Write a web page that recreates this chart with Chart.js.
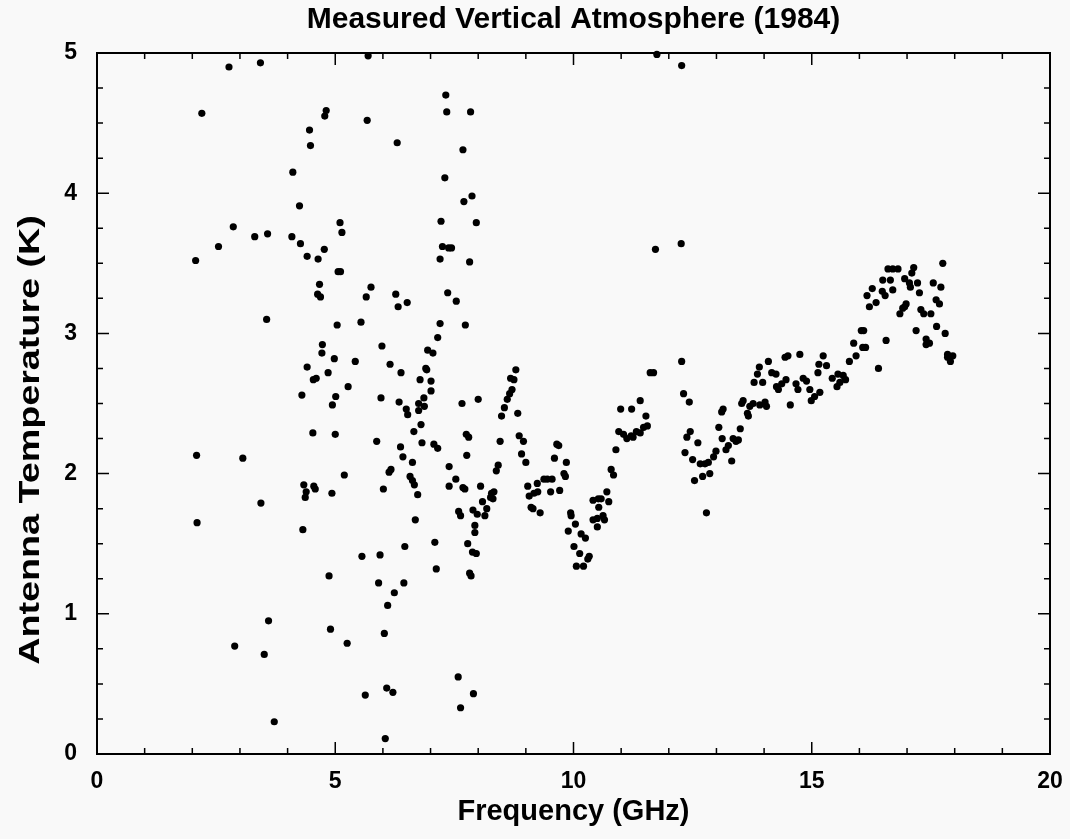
<!DOCTYPE html>
<html>
<head>
<meta charset="utf-8">
<title>Measured Vertical Atmosphere (1984)</title>
<script src="https://cdn.jsdelivr.net/npm/chart.js@4.4.1/dist/chart.umd.min.js"></script>
<style>
  html, body { margin: 0; padding: 0; background: #f9f9f9; }
  canvas { display: block; }
</style>
</head>
<body>
<canvas id="chart" width="1070" height="839"></canvas>
<script>
// measured points
const freqGHz = [
  2.07, 2.09, 2.10, 2.20, 2.55, 2.77, 2.86, 2.89, 3.06, 3.31, 3.43, 3.44, 3.51, 3.56, 3.58, 3.60, 3.72,
  4.09, 4.11, 4.25, 4.27, 4.30, 4.32, 4.34, 4.37, 4.39, 4.41, 4.41, 4.46, 4.48, 4.53, 4.54, 4.55, 4.58,
  4.60, 4.63, 4.64, 4.67, 4.69, 4.72, 4.73, 4.77, 4.78, 4.81, 4.85, 4.87, 4.90, 4.93, 4.94, 4.98,
  5.00, 5.01, 5.04, 5.06, 5.11, 5.10, 5.14, 5.19, 5.25, 5.27, 5.42, 5.54, 5.56, 5.63, 5.65, 5.67, 5.69,
  5.75, 5.87, 5.91, 5.94, 5.96, 5.98, 6.01, 6.03, 6.05, 6.08, 6.10, 6.13, 6.15, 6.17, 6.21, 6.24, 6.27,
  6.30, 6.32, 6.34, 6.37, 6.38, 6.42, 6.44, 6.46, 6.49, 6.51, 6.52, 6.57, 6.62, 6.62, 6.65, 6.66, 6.68,
  6.73, 6.75, 6.75, 6.78, 6.80, 6.82, 6.86, 6.87, 6.90, 6.92, 6.94, 7.01, 7.01, 7.05, 7.07, 7.09, 7.12,
  7.15, 7.15, 7.20, 7.20, 7.22, 7.25, 7.30, 7.32, 7.34, 7.36, 7.38, 7.39, 7.39, 7.44, 7.53, 7.54, 7.58,
  7.59, 7.63, 7.63, 7.66, 7.68, 7.68, 7.70, 7.72, 7.73, 7.75, 7.76, 7.78, 7.80, 7.82, 7.82, 7.84, 7.85,
  7.87, 7.88, 7.89, 7.90, 7.93, 7.93, 7.96, 7.96, 7.98, 8.00, 8.05, 8.09, 8.14, 8.18, 8.26, 8.28, 8.31,
  8.33, 8.38, 8.42, 8.46, 8.49, 8.55, 8.61, 8.66, 8.68, 8.71, 8.75, 8.79, 8.83, 8.86, 8.91, 8.95, 9.00,
  9.04, 9.07, 9.11, 9.15, 9.17, 9.24, 9.25, 9.30, 9.38, 9.45, 9.52, 9.55, 9.60, 9.65, 9.69, 9.71, 9.80,
  9.83, 9.85, 9.89, 9.94, 9.95, 10.01, 10.04, 10.06, 10.13, 10.16, 10.21, 10.25, 10.30, 10.33, 10.41,
  10.41, 10.50, 10.50, 10.52, 10.53, 10.58, 10.62, 10.65, 10.70, 10.74, 10.79, 10.84, 10.89, 10.95,
  10.99, 11.05, 11.12, 11.21, 11.22, 11.25, 11.32, 11.40, 11.40, 11.47, 11.52, 11.55, 11.61, 11.68,
  11.72, 11.75, 12.26, 12.27, 12.27, 12.31, 12.34, 12.38, 12.43, 12.45, 12.50, 12.54, 12.61, 12.66,
  12.71, 12.76, 12.79, 12.83, 12.86, 12.94, 12.99, 13.05, 13.11, 13.12, 13.14, 13.20, 13.25, 13.32,
  13.35, 13.41, 13.46, 13.50, 13.53, 13.56, 13.65, 13.67, 13.70, 13.77, 13.79, 13.86, 13.90, 13.91,
  13.97, 14.02, 14.05, 14.09, 14.16, 14.25, 14.26, 14.30, 14.37, 14.44, 14.46, 14.50, 14.55, 14.67,
  14.71, 14.75, 14.82, 14.89, 14.96, 14.99, 15.06, 15.13, 15.15, 15.17, 15.24, 15.31, 15.43, 15.53,
  15.55, 15.59, 15.66, 15.71, 15.79, 15.88, 15.93, 16.04, 16.07, 16.09, 16.13, 16.16, 16.21, 16.27,
  16.35, 16.40, 16.48, 16.49, 16.54, 16.56, 16.60, 16.65, 16.70, 16.70, 16.81, 16.85, 16.91, 16.95,
  16.95, 16.98, 17.05, 17.07, 17.10, 17.14, 17.19, 17.22, 17.26, 17.29, 17.35, 17.40, 17.40, 17.47,
  17.50, 17.55, 17.61, 17.62, 17.68, 17.71, 17.75, 17.80, 17.85, 17.85, 17.91, 17.96
];
const antennaTempK = [
  3.52, 2.13, 1.65, 4.57, 3.62, 4.90, 3.76, 0.77, 2.11, 3.69, 4.93, 1.79, 0.71, 3.10, 3.71, 0.95, 0.23,
  3.69, 4.15, 3.91, 3.64, 2.56, 1.60, 1.92, 1.83, 1.87, 2.76, 3.55, 4.45, 4.34, 2.29, 2.67, 1.91, 1.89,
  2.68, 3.28, 3.53, 3.35, 3.26, 2.86, 2.92, 3.60, 4.55, 4.59, 2.72, 1.27, 0.89, 1.86, 2.49, 2.82,
  2.28, 2.55, 3.06, 3.44, 3.44, 3.79, 3.72, 1.99, 0.79, 2.62, 2.80, 3.08, 1.41, 0.42, 3.26, 4.52, 4.98,
  3.33, 2.23, 1.22, 1.42, 2.54, 2.91, 1.89, 0.86, 0.11, 0.47, 1.06, 2.01, 2.78, 2.03, 0.44, 1.15, 3.28,
  4.36, 3.19, 2.51, 2.19, 2.72, 2.12, 1.22, 1.48, 2.46, 3.22, 2.42, 1.98, 1.95, 2.08, 2.30, 1.92, 1.67,
  1.85, 2.50, 2.45, 2.67, 2.35, 2.22, 2.54, 2.48, 2.75, 2.74, 2.88, 2.66, 2.59, 2.86, 2.21, 1.51, 1.32,
  2.18, 2.97, 3.07, 3.53, 3.80, 3.62, 4.11, 4.70, 4.58, 3.29, 3.61, 2.05, 1.91, 3.61, 1.96, 3.23, 0.55,
  1.73, 1.70, 0.33, 2.50, 4.31, 1.90, 3.94, 1.89, 3.06, 2.28, 2.13, 1.50, 2.26, 3.51, 1.29, 4.58, 1.27,
  3.98, 1.44, 1.74, 0.43, 1.63, 1.58, 3.79, 1.43, 1.71, 2.53, 1.91, 1.80, 1.70, 1.75, 1.83, 1.86, 1.82,
  1.87, 2.02, 2.06, 2.23, 2.41, 2.47, 2.53, 2.57, 2.68, 2.60, 2.67, 2.74, 2.43, 2.27, 2.14, 2.23, 2.08,
  1.91, 1.84, 1.76, 1.75, 1.86, 1.93, 1.87, 1.72, 1.96, 1.96, 1.87, 1.96, 2.11, 2.21, 2.20, 1.88, 2.00,
  1.98, 2.08, 1.59, 1.72, 1.70, 1.48, 1.64, 1.34, 1.43, 1.57, 1.34, 1.54, 1.39, 1.41, 1.81,
  1.67, 1.68, 1.62, 1.82, 1.76, 1.82, 1.70, 1.67, 1.87, 1.80, 2.03, 1.99, 2.17, 2.30,
  2.46, 2.28, 2.25, 2.27, 2.46, 2.26, 2.30, 2.29, 2.52, 2.33, 2.41, 2.34, 2.72, 2.72,
  3.60, 4.99, 3.64, 2.80, 4.91, 2.57, 2.15, 2.26, 2.51, 2.30, 2.10, 1.95, 2.22, 2.07,
  1.98, 2.07, 1.72, 2.08, 2.00, 2.12, 2.16, 2.33, 2.44, 2.25, 2.46, 2.17, 2.20, 2.09,
  2.25, 2.23, 2.24, 2.32, 2.50, 2.52, 2.43, 2.41, 2.48, 2.50, 2.65, 2.71, 2.76, 2.49,
  2.65, 2.51, 2.48, 2.80, 2.72, 2.71, 2.62, 2.60, 2.64, 2.83, 2.67, 2.84, 2.49, 2.64,
  2.60, 2.85, 2.68, 2.66, 2.60, 2.52, 2.55, 2.72, 2.78, 2.58, 2.84, 2.77, 2.68, 2.62,
  2.71, 2.65, 2.70, 2.67, 2.80, 2.93, 2.84, 3.02, 2.90, 3.02, 2.90, 3.27, 3.19, 3.32,
  3.22, 2.75, 3.30, 3.38, 3.27, 2.95, 3.46, 3.38, 3.46, 3.31, 3.46, 3.14, 3.18, 3.39,
  3.19, 3.21, 3.36, 3.33, 3.43, 3.47, 3.02, 3.36, 3.29, 3.17, 3.14, 2.96, 2.92, 2.93,
  3.14, 3.36, 3.24, 3.05, 3.21, 3.33, 3.50, 3.00, 2.85, 2.83, 2.80, 2.84
];
const xTicks = [0, 5, 10, 15, 20];
const yTicks = [0, 1, 2, 3, 4, 5];

const FONT = "'Liberation Sans', Arial, sans-serif";

// frame with inward ticks on all four sides
const frameTicks = {
  id: 'frameTicks',
  afterDatasetsDraw(chart) {
    const { ctx, chartArea: a, scales: { x, y } } = chart;
    ctx.save();
    ctx.strokeStyle = '#000';
    ctx.lineWidth = 2;
    ctx.strokeRect(a.left, a.top, a.right - a.left, a.bottom - a.top);
    ctx.lineWidth = 1.5;
    ctx.beginPath();
    for (let v = 0; v <= 20; v += 1) {
      const px = x.getPixelForValue(v);
      const len = v % 5 === 0 ? 12 : 6;
      ctx.moveTo(px, a.bottom); ctx.lineTo(px, a.bottom - len);
      ctx.moveTo(px, a.top); ctx.lineTo(px, a.top + len);
    }
    for (let i = 0; i <= 20; i++) {
      const py = y.getPixelForValue(i * 0.25);
      const len = i % 4 === 0 ? 12 : 6;
      ctx.moveTo(a.left, py); ctx.lineTo(a.left + len, py);
      ctx.moveTo(a.right, py); ctx.lineTo(a.right - len, py);
    }
    ctx.stroke();
    ctx.restore();
  }
};

// y title: the scan has it stretched lengthwise and sitting a bit low
const yTitle = {
  id: 'yTitle',
  afterDraw(chart) {
    const ctx = chart.ctx;
    ctx.save();
    ctx.translate(31, 440);
    ctx.rotate(-Math.PI / 2);
    ctx.scale(1.3, 1);
    ctx.font = 'bold 29px ' + FONT;
    ctx.fillStyle = '#000';
    ctx.textAlign = 'center';
    ctx.textBaseline = 'middle';
    ctx.fillText('Antenna Temperature (K)', 0, 0);
    ctx.restore();
  }
};

new Chart(document.getElementById('chart'), {
  type: 'scatter',
  data: {
    datasets: [{
      data: freqGHz.map((f, i) => ({ x: f, y: antennaTempK[i] })),
      backgroundColor: '#000',
      borderWidth: 0,
      pointRadius: 3.6,
      pointHoverRadius: 3.6
    }]
  },
  options: {
    responsive: false,
    animation: false,
    devicePixelRatio: 1,
    layout: { padding: { right: 20 } },
    clip: false,
    plugins: {
      legend: { display: false },
      tooltip: { enabled: false },
      title: { display: false }
    },
    scales: {
      x: {
        type: 'linear',
        min: 0, max: 20,
        afterBuildTicks: s => { s.ticks = xTicks.map(v => ({ value: v })); },
        afterFit: s => { s.height = 85; s.paddingLeft = 0; s.paddingRight = 0; },
        grid: { display: false, drawTicks: false },
        border: { display: false },
        ticks: { color: '#000', padding: 14, font: { family: FONT, size: 23, weight: 'bold' } },
        title: {
          display: true, text: 'Frequency (GHz)', color: '#000',
          padding: { top: 0, bottom: 10 },
          font: { family: FONT, size: 29, weight: 'bold' }
        }
      },
      top: {
        type: 'linear', position: 'top',
        min: 0, max: 20,
        afterFit: s => { s.height = 53; s.paddingLeft = 0; s.paddingRight = 0; },
        grid: { display: false, drawTicks: false },
        border: { display: false },
        ticks: { display: false },
        title: {
          display: true, text: 'Measured Vertical Atmosphere (1984)', color: '#000',
          padding: { top: 2, bottom: 0 },
          font: { family: FONT, size: 30, weight: 'bold' }
        }
      },
      y: {
        type: 'linear',
        min: 0, max: 5,
        afterBuildTicks: s => { s.ticks = yTicks.map(v => ({ value: v })); },
        afterFit: s => { s.width = 97; },
        grid: { display: false, drawTicks: false },
        border: { display: false },
        ticks: { color: '#000', padding: 20, font: { family: FONT, size: 23, weight: 'bold' } },
        title: { display: false }
      }
    }
  },
  plugins: [frameTicks, yTitle]
});
</script>
</body>
</html>
